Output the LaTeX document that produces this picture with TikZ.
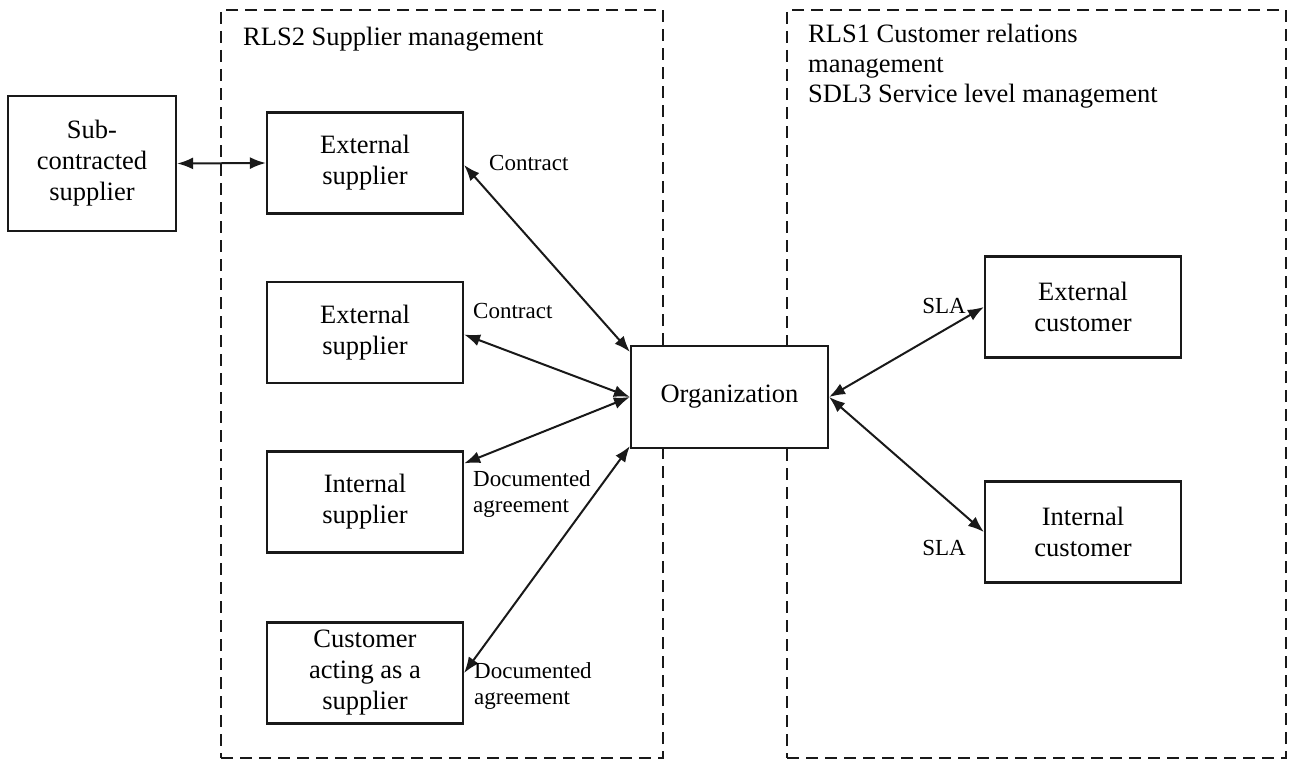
\documentclass[tikz,border=0pt]{standalone}
\usepackage{fontspec}
\setmainfont{Liberation Serif}
\usetikzlibrary{arrows.meta,calc}
\begin{document}
\begin{tikzpicture}[x=1pt,y=-1pt,
  box/.style={draw=black!90,fill=white,line width=2.2pt,minimum width=196pt,minimum height=101pt,inner sep=0pt,align=center,font=\fontsize{26.5}{31}\selectfont},
  grp/.style={draw=black!90,line width=2pt,dash pattern=on 12pt off 7pt,inner sep=0pt},
  lbl/.style={inner sep=0pt,align=left,font=\fontsize{23}{26}\selectfont},
  hdr/.style={inner sep=0pt,align=left,anchor=north west,font=\fontsize{26.5}{30}\selectfont},
  conn/.style={line width=2pt,black!90,{Latex[length=16pt,width=12pt]}-{Latex[length=16pt,width=12pt]}}]
\useasboundingbox (0,0) rectangle (1290,760);
% groups
\node[grp,minimum width=442pt,minimum height=748pt] (g1) at (442,384) {};
\node[grp,minimum width=499pt,minimum height=748pt] (g2) at (1036.5,384) {};
\node[hdr] (h1) at (243,27) {RLS2 Supplier management};
\node[hdr] (h2) at (808,24) {RLS1 Customer relations\\management\\SDL3 Service level management};
% boxes
\node[box,minimum width=168pt,minimum height=135pt] (sub) at (92,163.5) {Sub-\\contracted\\supplier};
\node[box] (ext1) at (365,163) {External\\supplier};
\node[box] (ext2) at (365,332.5) {External\\supplier};
\node[box] (int) at (365,502) {Internal\\supplier};
\node[box] (cas) at (365,673) {Customer\\acting as a\\supplier};
\node[box,minimum width=197pt,minimum height=102pt] (org) at (729.5,397) {Organization};
\node[box] (extc) at (1083,307) {External\\customer};
\node[box] (intc) at (1083,532) {Internal\\customer};
% connectors
\draw[conn] (sub.east) -- (ext1.west);
\draw[conn] ([yshift=-2pt]ext1.east) -- ([yshift=-7pt]org.north west);
\draw[conn] ([yshift=-2pt]ext2.east) -- (org.west);
\draw[conn] ([yshift=-13pt]int.north east) -- (org.west);
\draw[conn] (cas.east) -- ([yshift=3pt]org.south west);
\draw[conn] (org.east) -- (extc.west);
\draw[conn] (org.east) -- (intc.west);
% labels
\node[lbl,anchor=west] (l1) at (489,163) {Contract};
\node[lbl,anchor=west] (l2) at (473,311) {Contract};
\node[lbl,anchor=north west] (l3) at (473,470) {Documented\\agreement};
\node[lbl,anchor=north west] (l4) at (474,662) {Documented\\agreement};
\node[lbl,anchor=east] (l5) at (966,306) {SLA};
\node[lbl,anchor=east] (l6) at (966,548) {SLA};
\end{tikzpicture}
\end{document}
